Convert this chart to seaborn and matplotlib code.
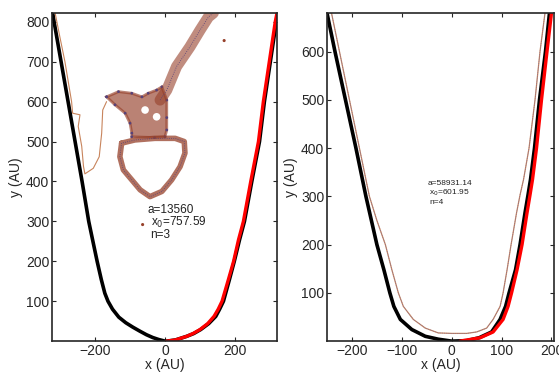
import matplotlib
matplotlib.use("Agg")
import matplotlib.pyplot as plt
import seaborn as sns

# ---- left panel (n=3) ----
l_black_x = [-321, -317, -297, -277, -257, -237, -218, -207, -194, -182, -172, -163, -150, -132,
             -112, -92, -72, -53, -35, -18, 0,
             5, 30, 62, 82, 102, 125, 145, 156, 167, 184, 198, 213, 227, 248, 270, 284, 301, 318, 322]
l_black_y = [822, 800, 700, 600, 500, 400, 300, 254, 200, 154, 120, 100, 80, 60,
             46, 35, 25, 16, 9, 4, 0,
             0, 3, 12, 19, 29, 44, 62, 80, 100, 154, 200, 254, 300, 400, 500, 600, 700, 800, 822]
l_red_x = [5, 30, 62, 80, 100, 122, 140, 152, 163, 181, 196, 210, 224, 245, 267, 281, 298, 315, 320]
l_red_y = [0, 3, 12, 19, 29, 44, 62, 80, 100, 154, 200, 254, 300, 400, 500, 600, 700, 800, 822]

# thin particle trail hugging the left wall
l_trail_x = [-314, -300, -286, -267, -264, -243, -248, -238, -233, -229, -205, -188, -181, -178, -167]
l_trail_y = [822, 760, 700, 600, 571, 567, 538, 488, 438, 419, 433, 462, 521, 579, 600]

# ring of the particle cloud
ring_x = [-124, -129, -119, -95, -71, -43, -9, 19, 43, 57, 55, 29, -29, -86, -124]
ring_y = [496, 462, 429, 404, 379, 362, 375, 404, 437, 471, 500, 508, 508, 504, 496]

# clump above the ring (outline)
clump_x = [-167, -133, -95, -66, -48, -24, -9, 5, 5, 5, 0, -30, -95, -95, -100, -114, -143, -167]
clump_y = [612, 625, 621, 612, 621, 629, 637, 604, 560, 529, 512, 510, 512, 521, 546, 571, 592, 612]
hole_x = [-57, -24]
hole_y = [579, 562]

# arm going up to the right
arm_x = [-14, 5, 33, 71, 100, 124, 138]
arm_y = [604, 629, 688, 737, 779, 812, 822]

stray_x = [169, -64]
stray_y = [753, 292]

# ---- right panel (n=4) ----
r_black_x = [-250, -234, -213, -192, -172, -150, -136, -124, -116, -103, -80, -53, -27, 0,
             30, 55, 80, 97, 108, 115, 128, 137, 147, 153, 158, 166, 176, 188, 196]
r_black_y = [680, 600, 500, 400, 300, 200, 148, 100, 72, 45, 24, 10, 4, 0,
             1, 7, 19, 45, 72, 100, 148, 200, 266, 303, 335, 400, 500, 600, 680]
r_red_x = [17, 57, 83, 103, 113, 120, 131, 141, 151, 157, 162, 170, 180, 191, 200]
r_red_y = [0, 7, 19, 45, 72, 100, 148, 200, 266, 303, 335, 400, 500, 600, 680]
r_trail_x = [-241, -225, -205, -185, -165, -150, -133, -120, -107, -97, -77, -53, -27, 0, 30,
             50, 70, 83, 97, 103, 111, 119, 130, 137, 144, 155, 167, 177, 187]
r_trail_y = [680, 600, 500, 400, 300, 250, 200, 148, 100, 72, 45, 27, 17, 16, 16,
             19, 27, 45, 72, 100, 148, 200, 266, 303, 335, 400, 500, 600, 680]

sns.set_style("ticks")
plt.rcParams["font.family"] = ["Liberation Sans", "DejaVu Sans"]

fig = plt.figure(figsize=(5.59, 3.72), dpi=100)
ax1 = fig.add_axes([0.093, 0.083, 0.4025, 0.882])
ax2 = fig.add_axes([0.585, 0.083, 0.406, 0.882])

brown = "#96402a"
speck = "#56427a"
trail = "#c8845c"

# left
sns.lineplot(x=l_black_x, y=l_black_y, sort=False, estimator=None, color="black", lw=2.6, ax=ax1)
sns.lineplot(x=l_red_x, y=l_red_y, sort=False, estimator=None, color="red", lw=2.4, ax=ax1)
sns.lineplot(x=l_trail_x, y=l_trail_y, sort=False, estimator=None, color=trail, lw=0.8, ax=ax1)
ax1.fill(clump_x, clump_y, color=brown, alpha=0.65, lw=2, ec=brown)
sns.scatterplot(x=hole_x, y=hole_y, color="white", s=30, edgecolor="none", ax=ax1)
sns.lineplot(x=ring_x, y=ring_y, sort=False, estimator=None, color=brown, lw=4, alpha=0.75, ax=ax1)
sns.lineplot(x=ring_x, y=ring_y, sort=False, estimator=None, color=speck, lw=0.6, ls=":", ax=ax1)
sns.lineplot(x=arm_x, y=arm_y, sort=False, estimator=None, color=brown, lw=8, alpha=0.6, ax=ax1)
sns.lineplot(x=arm_x, y=arm_y, sort=False, estimator=None, color=speck, lw=0.6, ls=":", ax=ax1)
sns.scatterplot(x=clump_x, y=clump_y, color=speck, s=4, edgecolor="none", ax=ax1)
sns.scatterplot(x=stray_x, y=stray_y, color=brown, s=5, edgecolor="none", ax=ax1)
ax1.text(-49, 329, "a=13560", fontsize=8.5, color="#222222", va="center")
ax1.text(-41, 297, "x$_0$=757.59", fontsize=8.5, color="#222222", va="center")
ax1.text(-43, 267, "n=3", fontsize=8.5, color="#222222", va="center")

ax1.set_xlim(-323, 320)
ax1.set_ylim(0, 822)
ax1.set_xticks([-200, 0, 200])
ax1.set_yticks([100, 200, 300, 400, 500, 600, 700, 800])
ax1.set_xlabel("x (AU)", fontsize=10, labelpad=0)
ax1.set_ylabel("y (AU)", fontsize=10, labelpad=2)

# right
sns.lineplot(x=r_black_x, y=r_black_y, sort=False, estimator=None, color="black", lw=2.6, ax=ax2)
sns.lineplot(x=r_red_x, y=r_red_y, sort=False, estimator=None, color="red", lw=2.4, ax=ax2)
sns.lineplot(x=r_trail_x, y=r_trail_y, sort=False, estimator=None, color=trail, lw=0.9, ax=ax2)
sns.lineplot(x=r_trail_x, y=r_trail_y, sort=False, estimator=None, color="#6a6ab0", lw=0.5, ls=":", ax=ax2)
ax2.text(-48, 326, "a=58931.14", fontsize=6, color="#222222", va="center")
ax2.text(-45, 307, "x$_0$=601.95", fontsize=6, color="#222222", va="center")
ax2.text(-45, 288, "n=4", fontsize=6, color="#222222", va="center")

ax2.set_xlim(-250, 205)
ax2.set_ylim(0, 680)
ax2.set_xticks([-200, -100, 0, 100, 200])
ax2.set_yticks([100, 200, 300, 400, 500, 600])
ax2.set_xlabel("x (AU)", fontsize=10, labelpad=0)
ax2.set_ylabel("y (AU)", fontsize=10, labelpad=2)

for ax in (ax1, ax2):
    ax.tick_params(direction="in", top=True, right=True, labelsize=10, length=3, pad=2)
    for sp in ax.spines.values():
        sp.set_visible(True)
        sp.set_linewidth(1.2)

fig.savefig("out.png", dpi=100)
plt.close(fig)
